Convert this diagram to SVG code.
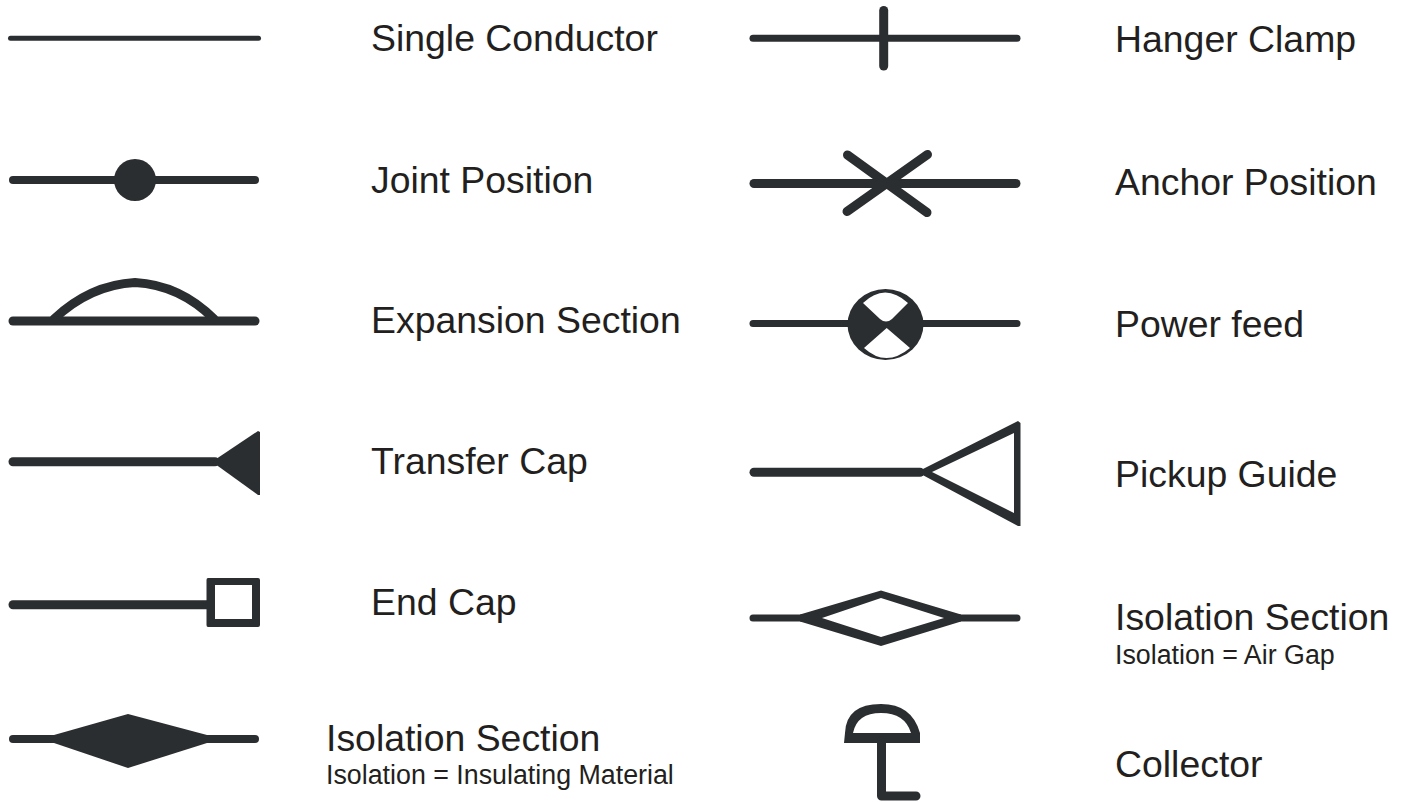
<svg xmlns="http://www.w3.org/2000/svg" width="1404" height="802" viewBox="0 0 1404 802">
<style>
.t{font-family:"Liberation Sans",Arial,sans-serif;font-size:37.4px;fill:#231f20}
.s{font-family:"Liberation Sans",Arial,sans-serif;font-size:26.8px;fill:#231f20}
.l{fill:none;stroke:#2b2e30;stroke-linecap:round;stroke-linejoin:round}
.f{fill:#2b2e30}
</style>
<rect width="1404" height="802" fill="#fff"/>
<g id="connectors">
<path class="l" stroke-width="5" d="M10.500 38.300H258.500"/>
<path class="l" stroke-width="8" d="M13 180H255"/>
<path class="l" stroke-width="9" d="M13 321H255"/>
<path class="l" stroke-width="9" d="M13 461.700H215"/>
<path class="l" stroke-width="9" d="M13 604.700H208"/>
<path class="l" stroke-width="8" d="M13 739H255"/>
<path class="l" stroke-width="7" d="M753 38.300H1017"/>
<path class="l" stroke-width="9" d="M754 183.500H1016"/>
<path class="l" stroke-width="7" d="M753 323.500H1017"/>
<path class="l" stroke-width="9" d="M754 472.300H920"/>
<path class="l" stroke-width="7" d="M753 618H805M956 618H1017"/>
</g>
<g id="single-conductor"><text class="t" x="371" y="51">Single Conductor</text></g>
<g id="joint-position"><circle class="f" cx="135" cy="180" r="21"/><text class="t" x="371" y="193">Joint Position</text></g>
<g id="expansion-section"><path class="l" stroke-width="9" stroke-linecap="butt" d="M54 319Q90 285 135 282.500Q180 285 214 319"/><text class="t" x="371" y="333">Expansion Section</text></g>
<g id="transfer-cap"><path class="f" d="M212 461.700L258 431L260 432V495L258 495Z"/><text class="t" x="371" y="474">Transfer Cap</text></g>
<g id="end-cap"><path class="f" fill-rule="evenodd" d="M208 578H258Q260 578 260 580V625Q260 627 258 627H208Q206.500 627 206.500 625V580Q206.500 578 208 578ZM215 585V619H252V585Z"/><text class="t" x="371" y="615">End Cap</text></g>
<g id="isolation-insulating"><path class="f" d="M54 735L128 714L207 735V743L128 768L54 743Z"/><text class="t" x="326" y="751">Isolation Section</text><text class="s" x="326" y="784">Isolation = Insulating Material</text></g>
<g id="hanger-clamp"><path class="l" stroke-width="9" d="M883.700 10.500V66"/><text class="t" x="1115" y="52">Hanger Clamp</text></g>
<g id="anchor-position"><path class="l" stroke-width="9" d="M847.500 155L927 212.500M927.500 154.500L847 211.500"/><text class="t" x="1115" y="195">Anchor Position</text></g>
<g id="power-feed"><ellipse cx="885.500" cy="324.500" rx="38" ry="35.500" fill="#2b2e30"/><path fill="#fff" d="M863 303Q885 282 908 303L892 319Q886 324 880 319ZM886.700 328L910 348Q886 368 864 348Z"/><text class="t" x="1115" y="337">Power feed</text></g>
<g id="pickup-guide"><path class="f" fill-rule="evenodd" d="M917 472L1018 421L1020.500 423V526L1018 526ZM932 472L1014 513V433Z"/><text class="t" x="1115" y="487">Pickup Guide</text></g>
<g id="isolation-air"><path class="f" fill-rule="evenodd" d="M800 614.500L881 590.500L961 614.500V621.500L881 646L800 621.500ZM822 618L881 637L944 618L881 598Z"/><text class="t" x="1115" y="630">Isolation Section</text><text class="s" x="1115" y="664">Isolation = Air Gap</text></g>
<g id="collector"><path class="f" fill-rule="evenodd" d="M845 733Q846 704 881 704Q912 704 920 733V743H844ZM853 733H911Q905 713 881 713Q857 713 853 733Z"/><path class="l" stroke-width="9" d="M881.500 741V796H916"/><text class="t" x="1115" y="777">Collector</text></g>
</svg>
